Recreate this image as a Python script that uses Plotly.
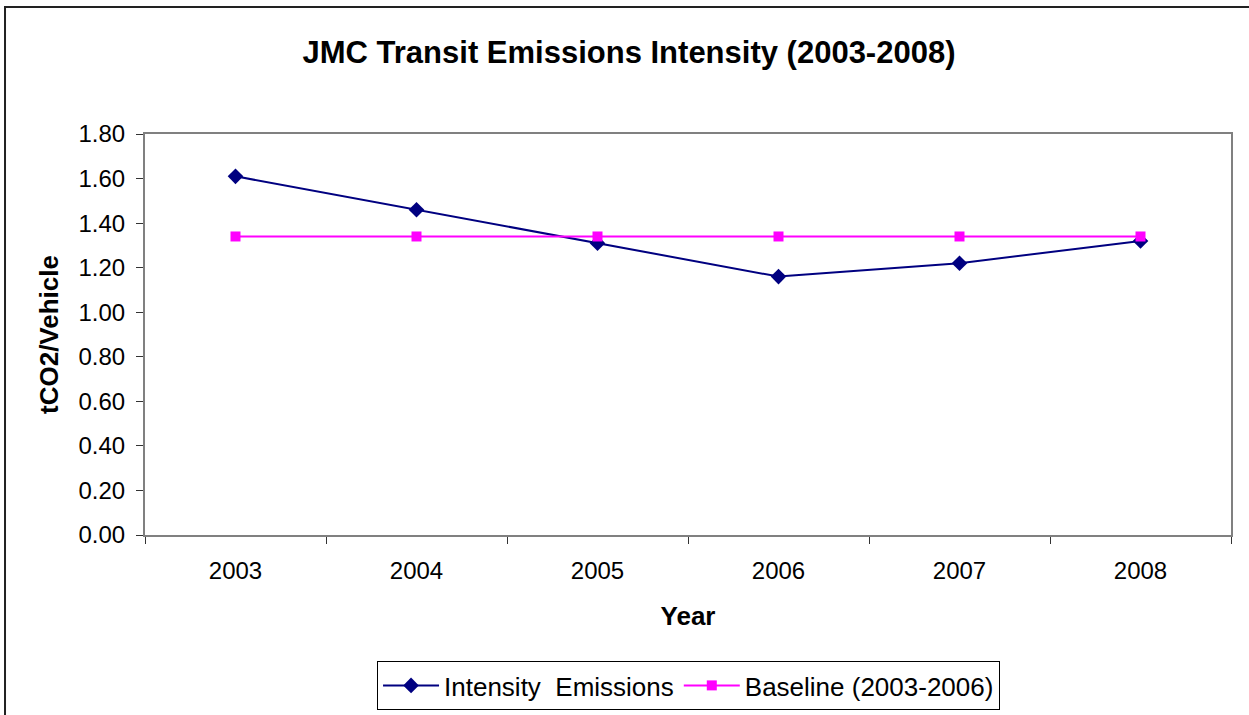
import plotly.graph_objects as go

years = ["2003", "2004", "2005", "2006", "2007", "2008"]
intensity = [1.61, 1.46, 1.31, 1.16, 1.22, 1.32]
baseline = [1.34, 1.34, 1.34, 1.34, 1.34, 1.34]

FONT = "Liberation Sans, Arial, sans-serif"

fig = go.Figure()
fig.add_trace(go.Scatter(
    x=years, y=intensity, mode="lines+markers",
    name="Intensity\u00a0\u00a0Emissions",
    line=dict(color="#000080", width=2),
    marker=dict(symbol="diamond", size=12, color="#000080"),
))
fig.add_trace(go.Scatter(
    x=years, y=baseline, mode="lines+markers",
    name="Baseline (2003-2006)",
    line=dict(color="#FF00FF", width=2),
    marker=dict(symbol="square", size=10, color="#FF00FF"),
))

fig.update_layout(
    width=1249, height=715,
    margin=dict(l=145, r=18, t=134, b=180, autoexpand=False),
    paper_bgcolor="white", plot_bgcolor="white",
    font=dict(family=FONT, size=24, color="black"),
    title=dict(
        text="<b>JMC Transit Emissions Intensity (2003-2008)</b>",
        x=629 / 1249, xanchor="center", y=1 - 52 / 715, yanchor="middle",
        font=dict(family=FONT, size=31, color="black"),
    ),
    showlegend=True,
    legend=dict(
        orientation="h", x=0.5005, xanchor="center", y=-0.3142, yanchor="top",
        bordercolor="black", borderwidth=1, bgcolor="white",
        font=dict(family=FONT, size=26, color="black"),
        itemwidth=56, tracegroupgap=0,
    ),
    shapes=[dict(
        type="rect", xref="paper", yref="paper",
        x0=-0.1289, x1=1.02, y0=-0.5, y1=1.3167,
        line=dict(color="#222222", width=2), layer="below",
    )],
)

fig.update_xaxes(
    type="category", range=[-0.5, 5.5], autorange=False,
    tickson="boundaries", ticks="outside", ticklen=7,
    tickcolor="#333333", showline=True, linecolor="#808080", linewidth=2,
    mirror=True, showgrid=False, zeroline=False, automargin=False,
    tickfont=dict(family=FONT, size=24),
    ticklabelstandoff=13,
    title=dict(text="<b>Year</b>", font=dict(family=FONT, size=26), standoff=24),
)
fig.update_yaxes(
    range=[0, 1.8], autorange=False, dtick=0.2, tickformat=".2f",
    ticks="outside", ticklen=7,
    tickcolor="#333333", showline=True, linecolor="#808080", linewidth=2,
    mirror=True, showgrid=False, zeroline=False, automargin=False,
    tickfont=dict(family=FONT, size=24),
    ticklabelstandoff=6,
    title=dict(text="<b>tCO2/Vehicle</b>", font=dict(family=FONT, size=26), standoff=12),
)

fig.write_html("out.html")
